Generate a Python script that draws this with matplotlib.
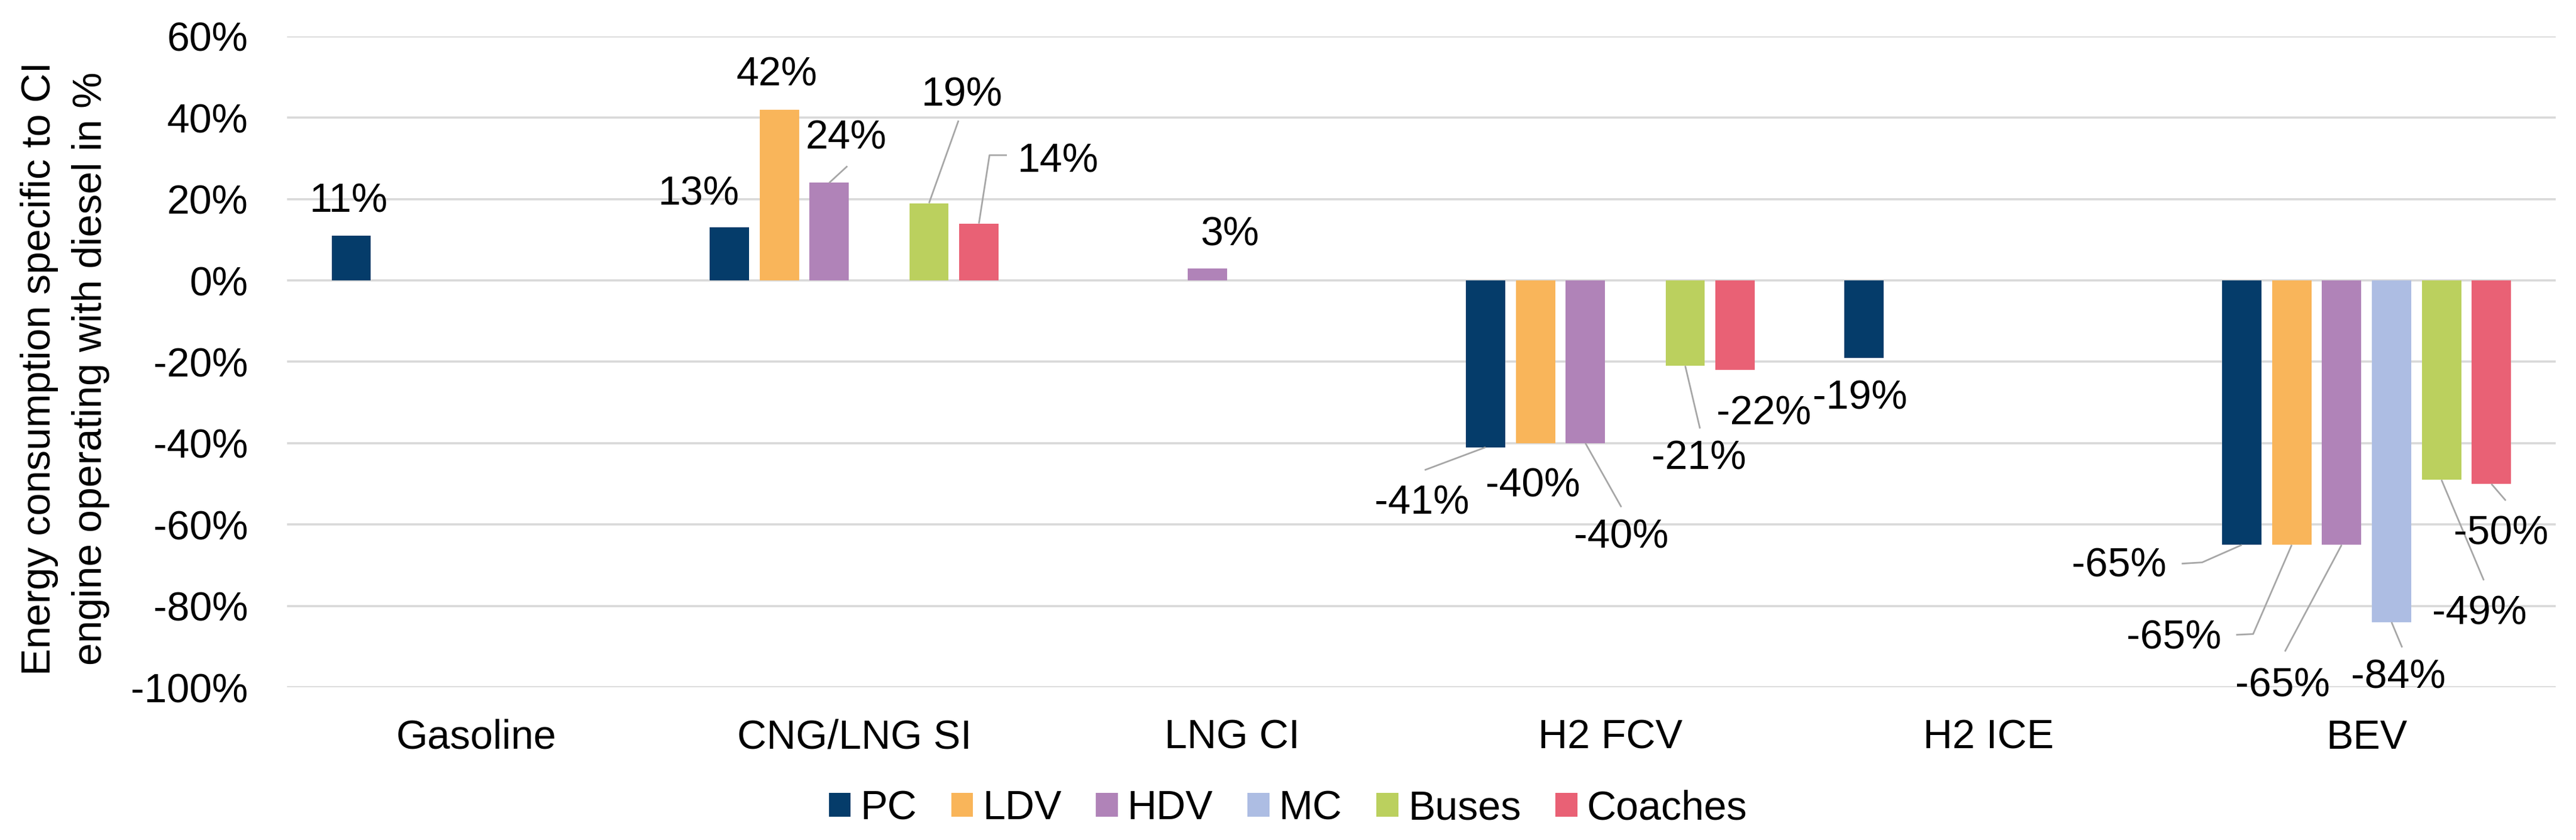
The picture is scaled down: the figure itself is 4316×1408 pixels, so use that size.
import numpy as np
import matplotlib.pyplot as plt

plt.rcParams["font.family"] = ["Liberation Sans", "DejaVu Sans"]

categories = ["Gasoline", "CNG/LNG SI", "LNG CI", "H2 FCV", "H2 ICE", "BEV"]
series = ["PC", "LDV", "HDV", "MC", "Buses", "Coaches"]
nan = np.nan
pc = [11, 13, nan, -41, -19, -65]
ldv = [nan, 42, nan, -40, nan, -65]
hdv = [nan, 24, 3, -40, nan, -65]
mc = [nan, nan, nan, nan, nan, -84]
buses = [nan, 19, nan, -21, nan, -49]
coaches = [nan, 14, nan, -22, nan, -50]
values = [pc, ldv, hdv, mc, buses, coaches]
yticks = [-100, -80, -60, -40, -20, 0, 20, 40, 60]

colors = ["#053C6A", "#F9B55A", "#B083B8", "#ADBDE3", "#BBD05E", "#E96175"]

# label centres (data coords)
label_pos = {
    ("PC", 0): (-0.336, 20.4),
    ("PC", 1): (0.589, 22.1),
    ("LDV", 1): (0.796, 51.5),
    ("HDV", 1): (0.978, 35.9),
    ("Buses", 1): (1.286, 46.5),
    ("Coaches", 1): (1.540, 30.3),
    ("HDV", 2): (1.993, 12.2),
    ("PC", 3): (2.501, -53.8),
    ("LDV", 3): (2.795, -49.6),
    ("HDV", 3): (3.029, -62.2),
    ("Buses", 3): (3.234, -42.8),
    ("Coaches", 3): (3.406, -31.8),
    ("PC", 4): (3.660, -28.0),
    ("PC", 5): (4.345, -69.2),
    ("LDV", 5): (4.491, -86.9),
    ("HDV", 5): (4.778, -98.7),
    ("MC", 5): (5.084, -96.6),
    ("Buses", 5): (5.299, -80.9),
    ("Coaches", 5): (5.356, -61.3),
}
# leader line points after the bar end
leaders = {
    ("HDV", 1): [(0.982, 28.1)],
    ("Buses", 1): [(1.276, 39.3)],
    ("Coaches", 1): [(1.358, 30.8), (1.404, 30.8)],
    ("PC", 3): [(2.509, -46.6)],
    ("HDV", 3): [(3.029, -55.7)],
    ("Buses", 3): [(3.237, -36.4)],
    ("PC", 5): [(4.565, -69.3), (4.511, -69.6)],
    ("LDV", 5): [(4.700, -86.9), (4.655, -87.1)],
    ("HDV", 5): [(4.784, -91.2)],
    ("MC", 5): [(5.094, -90.2)],
    ("Buses", 5): [(5.310, -73.7)],
    ("Coaches", 5): [(5.368, -54.1)],
}

fs = 49
pitch = 0.132
width = 0.104

fig = plt.figure(figsize=(43.16, 14.08), dpi=100)
ax = fig.add_axes([0.1114, 0.1818, 0.8807, 0.7749])

x = np.arange(len(categories))
bars = []
for j, name in enumerate(series):
    xs = x + (j - 2.5) * pitch
    b = ax.bar(xs, values[j], width=width, color=colors[j], label=name, zorder=2)
    bars.append(b)
    for i, v in enumerate(values[j]):
        if np.isnan(v):
            continue
        key = (name, i)
        if key in leaders:
            pts = [(xs[i], v)] + leaders[key]
            ax.plot([p[0] for p in pts], [p[1] for p in pts], color="#A6A6A6",
                    lw=2.0, zorder=3, solid_capstyle="butt")
        lx, ly = label_pos[key]
        ax.text(lx, ly - 3.6, f"{v:.0f}%", ha="center", va="baseline",
                fontsize=fs, color="black", zorder=4)

ax.set_xlim(-0.5, 5.5)
ax.set_ylim(-100, 60)
ax.set_yticks(yticks)
ax.set_yticklabels([f"{t}%" for t in yticks])
ax.set_xticks(x)
ax.set_xticklabels(categories)
ax.tick_params(axis="y", length=0, pad=47, labelsize=fs)
ax.tick_params(axis="x", length=0, pad=38, labelsize=fs)
ax.grid(axis="y", color="#D9D9D9", lw=2.6, zorder=0)
ax.set_axisbelow(True)
for s in ax.spines.values():
    s.set_visible(False)

fig.text(0.0154, 0.561, "Energy consumption specific to CI", rotation=90,
         ha="center", va="center", fontsize=fs)
fig.text(0.0352, 0.561, "engine operating with diesel in %", rotation=90,
         ha="center", va="center", fontsize=fs)

fig.legend(handles=bars, labels=series, loc="center", bbox_to_anchor=(0.5, 0.0376),
           ncol=6, frameon=False, fontsize=fs, handlelength=0.54, handleheight=0.54,
           handletextpad=0.23, columnspacing=0.85, borderpad=0)

fig.savefig("out.png", dpi=100)
